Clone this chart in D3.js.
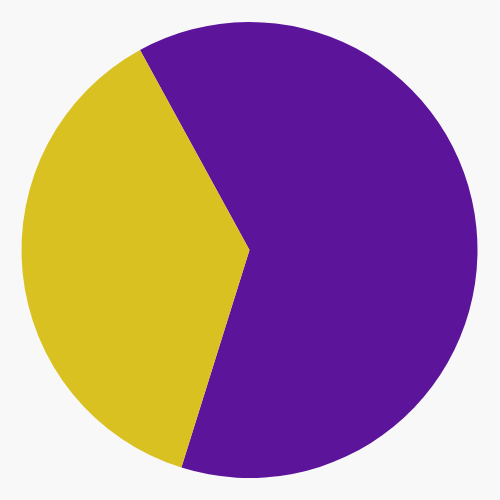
<!DOCTYPE html>
<html><head><meta charset="utf-8">
<script src="https://cdn.jsdelivr.net/npm/d3@7"></script>
<style>html,body{margin:0;padding:0;background:#f8f8f8;}</style>
</head><body>
<svg id="chart" width="500" height="500"></svg>
<script>
const categories = ["A", "B"];
const values = [62.8, 37.2];
const colors = ["#5c149b", "#d9c121"];

const svg = d3.select("#chart");
const cx = 249.5, cy = 250, r = 228;
const startDeg = -28.7;
const pie = d3.pie().sort(null).value(d => d.v)
  .startAngle(startDeg * Math.PI / 180)
  .endAngle((startDeg + 360) * Math.PI / 180);
const arc = d3.arc().innerRadius(0).outerRadius(r);
const color = d3.scaleOrdinal().domain(categories).range(colors);
svg.append("rect").attr("width", 500).attr("height", 500).attr("fill", "#f8f8f8");
svg.append("g").attr("transform", `translate(${cx},${cy})`)
  .selectAll("path")
  .data(pie(values.map((v, i) => ({c: categories[i], v}))))
  .join("path")
  .attr("d", arc)
  .attr("fill", d => color(d.data.c));
</script>
</body></html>
